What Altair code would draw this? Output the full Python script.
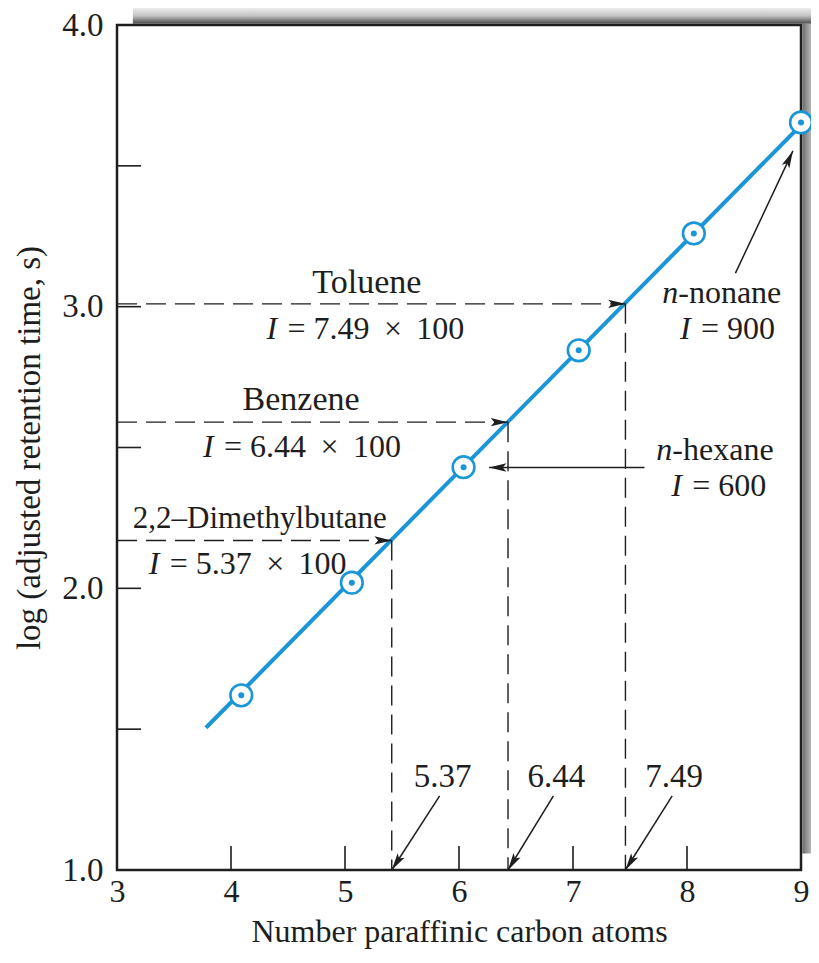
import math
import altair as alt
import pandas as pd

# ---------------- data ----------------
carbon_atoms = [4.09, 5.06, 6.04, 7.05, 8.06, 9.00]
log_retention = [1.62, 2.02, 2.43, 2.845, 3.26, 3.654]

fit_x = [3.78, 9.00]
fit_y = [1.505, 3.645]

guide_names = ["2,2–Dimethylbutane", "Benzene", "Toluene"]
guide_index = ["5.37", "6.44", "7.49"]
guide_x = [5.41, 6.43, 7.46]
guide_y = [2.17, 2.59, 3.01]

x_tick_labels = [3, 4, 5, 6, 7, 8, 9]
y_tick_labels = [1.0, 2.0, 3.0, 4.0]
x_inner_ticks = [4, 5, 6, 7, 8]
y_inner_ticks = [1.5, 2.0, 2.5, 3.0, 3.5]

# annotation texts and their anchor points (data units)
center_text = ["Toluene", "Benzene"]
center_x = [5.192, 4.615]
center_y = [3.084, 2.669]

value_text = ["5.37", "6.44", "7.49"]
value_x = [5.856, 6.854, 7.887]
value_y = [1.330, 1.330, 1.330]

left_text = ["2,2–Dimethylbutane"]
left_x = [3.139]
left_y = [2.246]

eq_rest = ["= 7.49 × 100", "= 6.44 × 100", "= 5.37 × 100", "= 600", "= 900"]
eq_x = [4.311, 3.755, 3.278, 7.861, 7.939]
eq_y = [2.919, 2.503, 2.087, 2.362, 2.919]

alkane_rest = ["-hexane", "-nonane"]
alkane_x = [7.731, 7.783]
alkane_y = [2.492, 3.049]

# solid pointer arrows: tail -> tip (data units)
arrow_tail_x = [5.830, 6.828, 7.870, 7.627, 8.425]
arrow_tail_y = [1.263, 1.263, 1.263, 2.429, 3.119]
arrow_tip_x = [5.41, 6.43, 7.46, 6.264, 8.929]
arrow_tip_y = [1.0, 1.0, 1.0, 2.429, 3.553]

# ---------------- styling ----------------
BLUE = "#1a96d8"
INK = "#1e1e1e"
FONT = "Liberation Serif"
FS = 32
W, H = 684, 845
PAD = {"left": 109, "top": 17, "right": 10, "bottom": 80}
X0, X1, Y0, Y1 = 3, 9, 1, 4
XS = alt.Scale(domain=[X0, X1], nice=False, zero=False)
YS = alt.Scale(domain=[Y0, Y1], nice=False, zero=False)
PX_X = W / (X1 - X0)
PX_Y = H / (Y1 - Y0)
ARROW = "M0,0 L-0.42,1.75 L0,1.38 L0.42,1.75 Z"
SP = "\u00a0\u2009"  # wider math spacing around the times sign


def arrow_angle(x0, y0, x1, y1):
    dx = (x1 - x0) * PX_X
    dy = -(y1 - y0) * PX_Y
    return math.degrees(math.atan2(dx, -dy)) % 360


x_axis = alt.Axis(values=x_tick_labels, format="d", ticks=False, tickSize=0,
                  domain=False, grid=False, labelFont=FONT, labelFontSize=32,
                  labelColor=INK, labelPadding=6, labelFlush=False,
                  labelOverlap=False,
                  title="Number paraffinic carbon atoms", titleFont=FONT,
                  titleFontSize=32, titleFontWeight="normal", titleColor=INK,
                  titleBaseline="alphabetic", titleY=71)
y_axis = alt.Axis(values=y_tick_labels, format=".1f", ticks=False, tickSize=0,
                  domain=False, grid=False, labelFont=FONT, labelFontSize=33,
                  labelColor=INK, labelPadding=14, labelOverlap=False,
                  title="log (adjusted retention time, s)", titleFont=FONT,
                  titleFontSize=33, titleFontWeight="normal", titleColor=INK,
                  titleAngle=270, titleAlign="center",
                  titleBaseline="alphabetic", titleX=-78, titleY=H / 2)


def ex(field):
    return alt.X(field, type="quantitative", scale=XS, axis=x_axis)


def ey(field):
    return alt.Y(field, type="quantitative", scale=YS, axis=y_axis)


def widen(s):
    return s.replace(" × ", SP + "×" + SP)


# ---------------- tables ----------------
pts = pd.DataFrame({"x": carbon_atoms, "y": log_retention})
fit = pd.DataFrame({"x": fit_x, "y": fit_y})
guides = pd.DataFrame({"name": guide_names, "idx": guide_index,
                       "gx": guide_x, "gy": guide_y,
                       "x0": [X0] * len(guide_x), "y0": [Y0] * len(guide_x)})
xt = pd.DataFrame({"v": x_inner_ticks, "b": [Y0] * len(x_inner_ticks)})
yt = pd.DataFrame({"v": y_inner_ticks, "b": [X0] * len(y_inner_ticks)})
arrows = pd.DataFrame({"tx": arrow_tail_x, "ty": arrow_tail_y,
                       "hx": arrow_tip_x, "hy": arrow_tip_y})
heads = pd.DataFrame({
    "hx": arrow_tip_x + guide_x,
    "hy": arrow_tip_y + guide_y,
    "ang": [arrow_angle(a, b, c, d) for a, b, c, d in
            zip(arrow_tail_x, arrow_tail_y, arrow_tip_x, arrow_tip_y)]
           + [arrow_angle(X0, y, x, y) for x, y in zip(guide_x, guide_y)],
})
ctext = pd.DataFrame({"t": center_text, "x": center_x, "y": center_y})
vtext = pd.DataFrame({"t": value_text, "x": value_x, "y": value_y})
ltext = pd.DataFrame({"t": left_text, "x": left_x, "y": left_y})
eqs = pd.DataFrame({"t": [widen(s) for s in eq_rest],
                    "i": ["I"] * len(eq_rest), "x": eq_x, "y": eq_y})
alk = pd.DataFrame({"t": alkane_rest, "i": ["n"] * len(alkane_rest),
                    "x": alkane_x, "y": alkane_y})
shadow = pd.DataFrame({"x": [3.139], "x2": [9.0 + 10 / PX_X],
                       "y": [4.0 + 1.3 / PX_Y], "y2": [4.0 + 19 / PX_Y]})
shadow_r = pd.DataFrame({"x": [9.0 + 1.3 / PX_X], "x2": [9.0 + 10 / PX_X],
                         "y": [1.059], "y2": [4.0 + 1.3 / PX_Y]})

# ---------------- layers ----------------
top_grad = alt.LinearGradient(
    gradient="linear", x1=0, x2=0, y1=0, y2=1,
    stops=[alt.GradientStop(color="#f7f7f7", offset=0),
           alt.GradientStop(color="#c4c4c4", offset=0.55),
           alt.GradientStop(color="#4a4a4a", offset=1)])
right_grad = alt.LinearGradient(
    gradient="linear", x1=0, x2=1, y1=0, y2=0,
    stops=[alt.GradientStop(color="#6a6a6a", offset=0),
           alt.GradientStop(color="#b8b8b8", offset=1)])

shadow_top = alt.Chart(shadow).mark_rect(color=top_grad).encode(
    x=ex("x"), x2="x2", y=ey("y"), y2="y2")
shadow_right = alt.Chart(shadow_r).mark_rect(color=right_grad).encode(
    x=ex("x"), x2="x2", y=ey("y"), y2="y2")

line = alt.Chart(fit).mark_line(color=BLUE, strokeWidth=4).encode(
    x=ex("x"), y=ey("y"))

hdash = alt.Chart(guides).mark_rule(strokeDash=[20, 9], strokeWidth=1.4, color=INK).encode(
    x=ex("x0"), x2="gx", y=ey("gy"))
vdash = alt.Chart(guides).mark_rule(strokeDash=[20, 9], strokeWidth=1.4, color=INK).encode(
    x=ex("gx"), y=ey("gy"), y2="y0")

xticks = alt.Chart(xt).mark_tick(orient="vertical", size=24, thickness=1.6,
                                 yOffset=-12, color=INK, opacity=1).encode(
    x=ex("v"), y=ey("b"))
yticks = alt.Chart(yt).mark_tick(orient="horizontal", size=24, thickness=1.6,
                                 xOffset=12, color=INK, opacity=1).encode(
    x=ex("b"), y=ey("v"))

shafts = alt.Chart(arrows).mark_rule(strokeWidth=1.5, color=INK).encode(
    x=ex("tx"), y=ey("ty"), x2="hx", y2="hy")
arrowheads = alt.Chart(heads).mark_point(shape=ARROW, filled=True, color=INK,
                                         size=390, opacity=1, strokeWidth=0).encode(
    x=ex("hx"), y=ey("hy"), angle=alt.Angle("ang:Q", scale=None))

circles = alt.Chart(pts).mark_point(shape="circle", filled=True, fill="white",
                                    stroke=BLUE, strokeWidth=2.6, size=470,
                                    opacity=1).encode(x=ex("x"), y=ey("y"))
dots = alt.Chart(pts).mark_point(shape="circle", filled=True, color=BLUE,
                                 size=36, opacity=1).encode(x=ex("x"), y=ey("y"))

txt_kw = dict(font=FONT, color=INK, baseline="middle")
t_center = alt.Chart(ctext).mark_text(align="center", fontSize=34, **txt_kw).encode(
    x=ex("x"), y=ey("y"), text="t:N")
t_value = alt.Chart(vtext).mark_text(align="center", fontSize=33, **txt_kw).encode(
    x=ex("x"), y=ey("y"), text="t:N")
t_left = alt.Chart(ltext).mark_text(align="left", fontSize=31, **txt_kw).encode(
    x=ex("x"), y=ey("y"), text="t:N")
t_eq_i = alt.Chart(eqs).mark_text(align="left", fontStyle="italic", fontSize=FS,
                                  **txt_kw).encode(x=ex("x"), y=ey("y"), text="i:N")
t_eq = alt.Chart(eqs).mark_text(align="left", dx=21, fontSize=FS, **txt_kw).encode(
    x=ex("x"), y=ey("y"), text="t:N")
t_alk_i = alt.Chart(alk).mark_text(align="left", fontStyle="italic", fontSize=FS,
                                   **txt_kw).encode(x=ex("x"), y=ey("y"), text="i:N")
t_alk = alt.Chart(alk).mark_text(align="left", dx=16, fontSize=FS, **txt_kw).encode(
    x=ex("x"), y=ey("y"), text="t:N")

chart = alt.layer(
    shadow_top, shadow_right, line, hdash, vdash, xticks, yticks, shafts,
    arrowheads, circles, dots, t_center, t_value, t_left, t_eq_i, t_eq,
    t_alk_i, t_alk,
).properties(
    width=W, height=H,
    autosize=alt.AutoSizeParams(type="none"),
    padding=PAD,
    background="white",
).configure_view(stroke=INK, strokeWidth=2.5)

chart.save("out.html", embed_options={"renderer": "svg", "actions": False})
